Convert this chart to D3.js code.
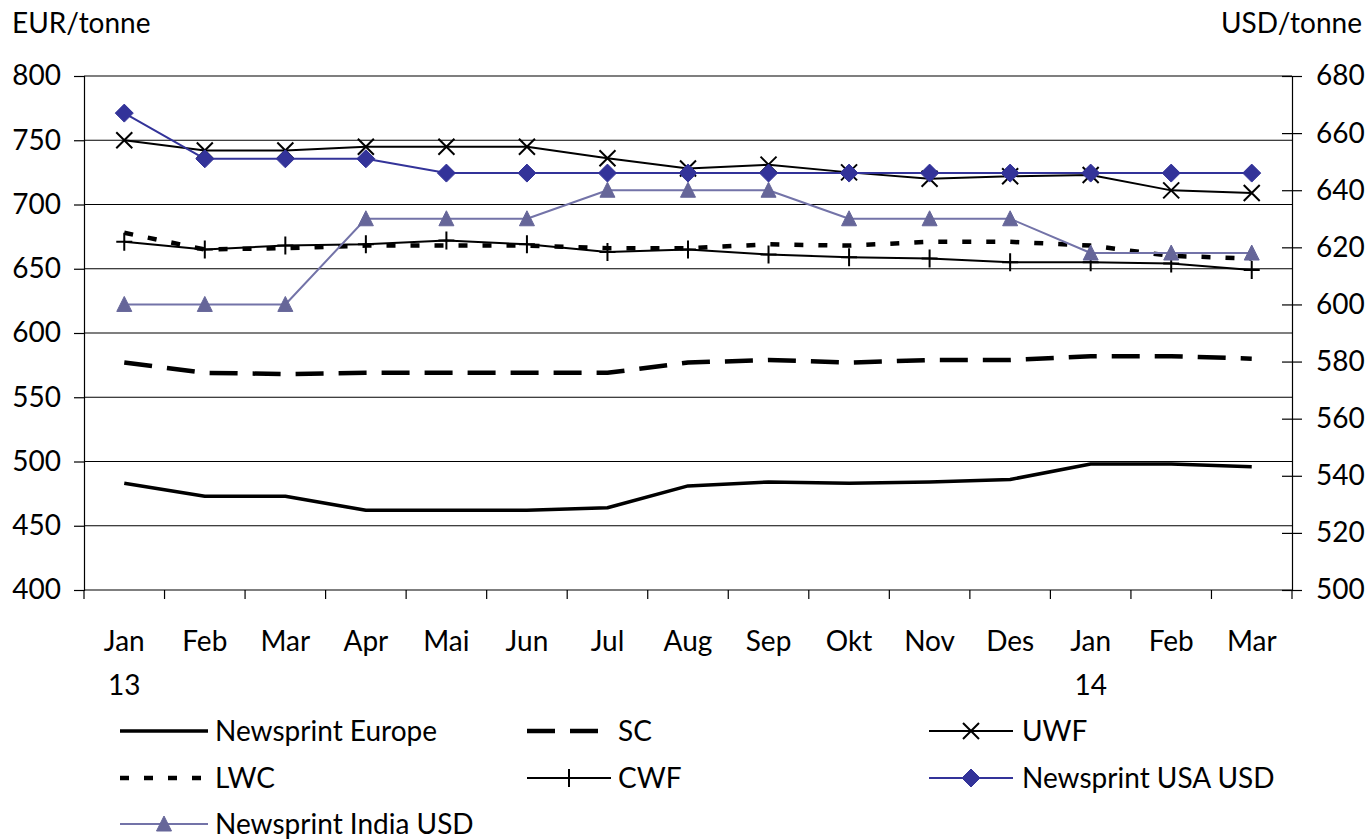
<!DOCTYPE html>
<html>
<head>
<meta charset="utf-8">
<script src="https://cdn.jsdelivr.net/npm/d3@7"></script>
<style>
  html, body { margin: 0; padding: 0; background: #fff; }
  svg { display: block; }
  text { font-family: Lato, "Open Sans", sans-serif; fill: #000; }
</style>
</head>
<body>
<svg id="chart" width="1367" height="839"></svg>
<script>
// Monthly paper prices, Jan 2013 – Mar 2014
const months = ["Jan", "Feb", "Mar", "Apr", "Mai", "Jun", "Jul", "Aug", "Sep", "Okt", "Nov", "Des", "Jan", "Feb", "Mar"];
const years  = ["13", "", "", "", "", "", "", "", "", "", "", "", "14", "", ""];

// EUR/tonne (left axis)
const newsprintEurope = [483, 473, 473, 462, 462, 462, 464, 481, 484, 483, 484, 486, 498, 498, 496];
const sc              = [577, 569, 568, 569, 569, 569, 569, 577, 579, 577, 579, 579, 582, 582, 580];
const uwf             = [750, 742, 742, 745, 745, 745, 736, 728, 731, 725, 720, 722, 723, 711, 709];
const lwc             = [678, 665, 666, 668, 668, 668, 666, 666, 669, 668, 671, 671, 668, 660, 658];
const cwf             = [671, 665, 668, 669, 672, 669, 663, 665, 661, 659, 658, 655, 655, 654, 649];

// USD/tonne (right axis)
const newsprintUSA   = [667, 651, 651, 651, 646, 646, 646, 646, 646, 646, 646, 646, 646, 646, 646];
const newsprintIndia = [600, 600, 600, 630, 630, 630, 640, 640, 640, 630, 630, 630, 618, 618, 618];

const leftTicks  = [400, 450, 500, 550, 600, 650, 700, 750, 800];
const rightTicks = [500, 520, 540, 560, 580, 600, 620, 640, 660, 680];

const leftUnit  = "EUR/tonne";
const rightUnit = "USD/tonne";

// ---- layout ----
const plot = { left: 84, right: 1292, top: 76, bottom: 590 };
const FONT = 28;

const svg = d3.select("#chart");

const x = d3.scaleBand()
  .domain(d3.range(months.length))
  .range([plot.left, plot.right])
  .padding(0);
const cx = i => x(i) + x.bandwidth() / 2;

const yL = d3.scaleLinear().domain([400, 800]).range([plot.bottom, plot.top]);
const yR = d3.scaleLinear().domain([500, 680]).range([plot.bottom, plot.top]);

// ---- gridlines ----
svg.append("g")
  .selectAll("line")
  .data(leftTicks)
  .join("line")
  .attr("x1", plot.left).attr("x2", plot.right)
  .attr("y1", d => yL(d)).attr("y2", d => yL(d))
  .attr("stroke", "#000").attr("stroke-width", 1.2);

// ---- left axis ----
const gL = svg.append("g")
  .attr("transform", `translate(${plot.left},0)`)
  .call(d3.axisLeft(yL).tickValues(leftTicks).tickSize(10).tickPadding(13).tickFormat(d3.format("d")));
gL.select(".domain").attr("stroke", "#000").attr("stroke-width", 1.2);
gL.selectAll(".tick line").attr("stroke", "#000").attr("stroke-width", 1.2);
gL.selectAll(".tick text").attr("font-size", FONT).attr("font-family", "Lato, sans-serif").attr("fill", "#000");

// ---- right axis (ticks cross the axis line) ----
const gR = svg.append("g")
  .attr("transform", `translate(${plot.right},0)`)
  .call(d3.axisRight(yR).tickValues(rightTicks).tickSize(10).tickPadding(14).tickFormat(d3.format("d")));
gR.select(".domain").attr("stroke", "#000").attr("stroke-width", 1.2);
gR.selectAll(".tick line").attr("x1", -10).attr("stroke", "#000").attr("stroke-width", 1.2);
gR.selectAll(".tick text").attr("font-size", FONT).attr("font-family", "Lato, sans-serif").attr("fill", "#000");

// ---- bottom axis: tick marks between months, labels centred ----
const boundaries = d3.range(months.length + 1).map(i => i < months.length ? x(i) : plot.right);
svg.append("g")
  .selectAll("line")
  .data(boundaries)
  .join("line")
  .attr("x1", d => d).attr("x2", d => d)
  .attr("y1", plot.bottom).attr("y2", plot.bottom + 9)
  .attr("stroke", "#000").attr("stroke-width", 1.2);

const gB = svg.append("g")
  .attr("transform", `translate(0,${plot.bottom})`)
  .call(d3.axisBottom(x).tickSize(0).tickPadding(0).tickFormat(i => months[i]));
gB.select(".domain").remove();
gB.selectAll(".tick text")
  .attr("font-size", FONT).attr("font-family", "Lato, sans-serif").attr("fill", "#000")
  .attr("dy", null).attr("y", 61);
gB.selectAll(".tick")
  .append("text")
  .text(i => years[i])
  .attr("y", 105)
  .attr("text-anchor", "middle")
  .attr("font-size", FONT);

// axis unit titles
svg.append("text").attr("x", 12).attr("y", 33).attr("font-size", FONT).text(leftUnit);
svg.append("text").attr("x", 1362).attr("y", 33).attr("text-anchor", "end").attr("font-size", FONT).text(rightUnit);

// ---- markers ----
const markerPaths = {
  cross: "M-8,-8L8,8M-8,8L8,-8",
  plus: "M-8,0L8,0M0,-9L0,9",
  diamond: "M0,-9L9,0L0,9L-9,0Z",
  triangle: "M0,-8L7.5,7L-7.5,7Z"
};

// ---- series definitions ----
const series = [
  { name: "Newsprint Europe", values: newsprintEurope, axis: yL, color: "#000", width: 3.5, dash: null, marker: null },
  { name: "SC", values: sc, axis: yL, color: "#000", width: 4.5, dash: "28,15", marker: null },
  { name: "UWF", values: uwf, axis: yL, color: "#000", width: 2, dash: null, marker: "cross", mcolor: "#000" },
  { name: "LWC", values: lwc, axis: yL, color: "#000", width: 4.5, dash: "9,15", marker: null },
  { name: "CWF", values: cwf, axis: yL, color: "#000", width: 2, dash: null, marker: "plus", mcolor: "#000" },
  { name: "Newsprint USA USD", values: newsprintUSA, axis: yR, color: "#333399", width: 2, dash: null, marker: "diamond", mcolor: "#333399" },
  { name: "Newsprint India USD", values: newsprintIndia, axis: yR, color: "#7373a8", width: 2, dash: null, marker: "triangle", mcolor: "#666699" }
];

function drawMarker(sel, s) {
  const p = sel.append("path").attr("d", markerPaths[s.marker]);
  if (s.marker === "cross" || s.marker === "plus") {
    p.attr("fill", "none").attr("stroke", s.mcolor).attr("stroke-width", 2);
  } else {
    p.attr("fill", s.mcolor).attr("stroke", s.mcolor).attr("stroke-width", 1);
  }
}

const gSeries = svg.append("g");
series.forEach(s => {
  const line = d3.line().x((d, i) => cx(i)).y(d => s.axis(d));
  gSeries.append("path")
    .datum(s.values)
    .attr("d", line)
    .attr("fill", "none")
    .attr("stroke", s.color)
    .attr("stroke-width", s.width)
    .attr("stroke-dasharray", s.dash)
    .attr("stroke-linejoin", "round");
  if (s.marker) {
    s.values.forEach((v, i) => {
      const g = gSeries.append("g").attr("transform", `translate(${cx(i)},${s.axis(v)})`);
      drawMarker(g, s);
    });
  }
});

// ---- legend (three columns) ----
const legendCols = [
  { sample: 120, len: 88, text: 215 },
  { sample: 527, len: 84, text: 618 },
  { sample: 929, len: 84, text: 1022 }
];
const legendRows = [731, 778, 824];
const legend = svg.append("g");
series.forEach((s, k) => {
  const col = legendCols[k % 3], y0 = legendRows[Math.floor(k / 3)];
  const g = legend.append("g").attr("transform", `translate(0,${y0})`);
  g.append("line")
    .attr("x1", col.sample).attr("x2", col.sample + col.len)
    .attr("y1", 0).attr("y2", 0)
    .attr("stroke", s.color)
    .attr("stroke-width", s.width)
    .attr("stroke-dasharray", s.dash);
  if (s.marker) {
    const m = g.append("g").attr("transform", `translate(${col.sample + col.len / 2},0)`);
    drawMarker(m, s);
  }
  g.append("text")
    .attr("x", col.text)
    .attr("y", 0)
    .attr("dy", "0.35em")
    .attr("font-size", FONT)
    .text(s.name);
});
</script>
</body>
</html>
